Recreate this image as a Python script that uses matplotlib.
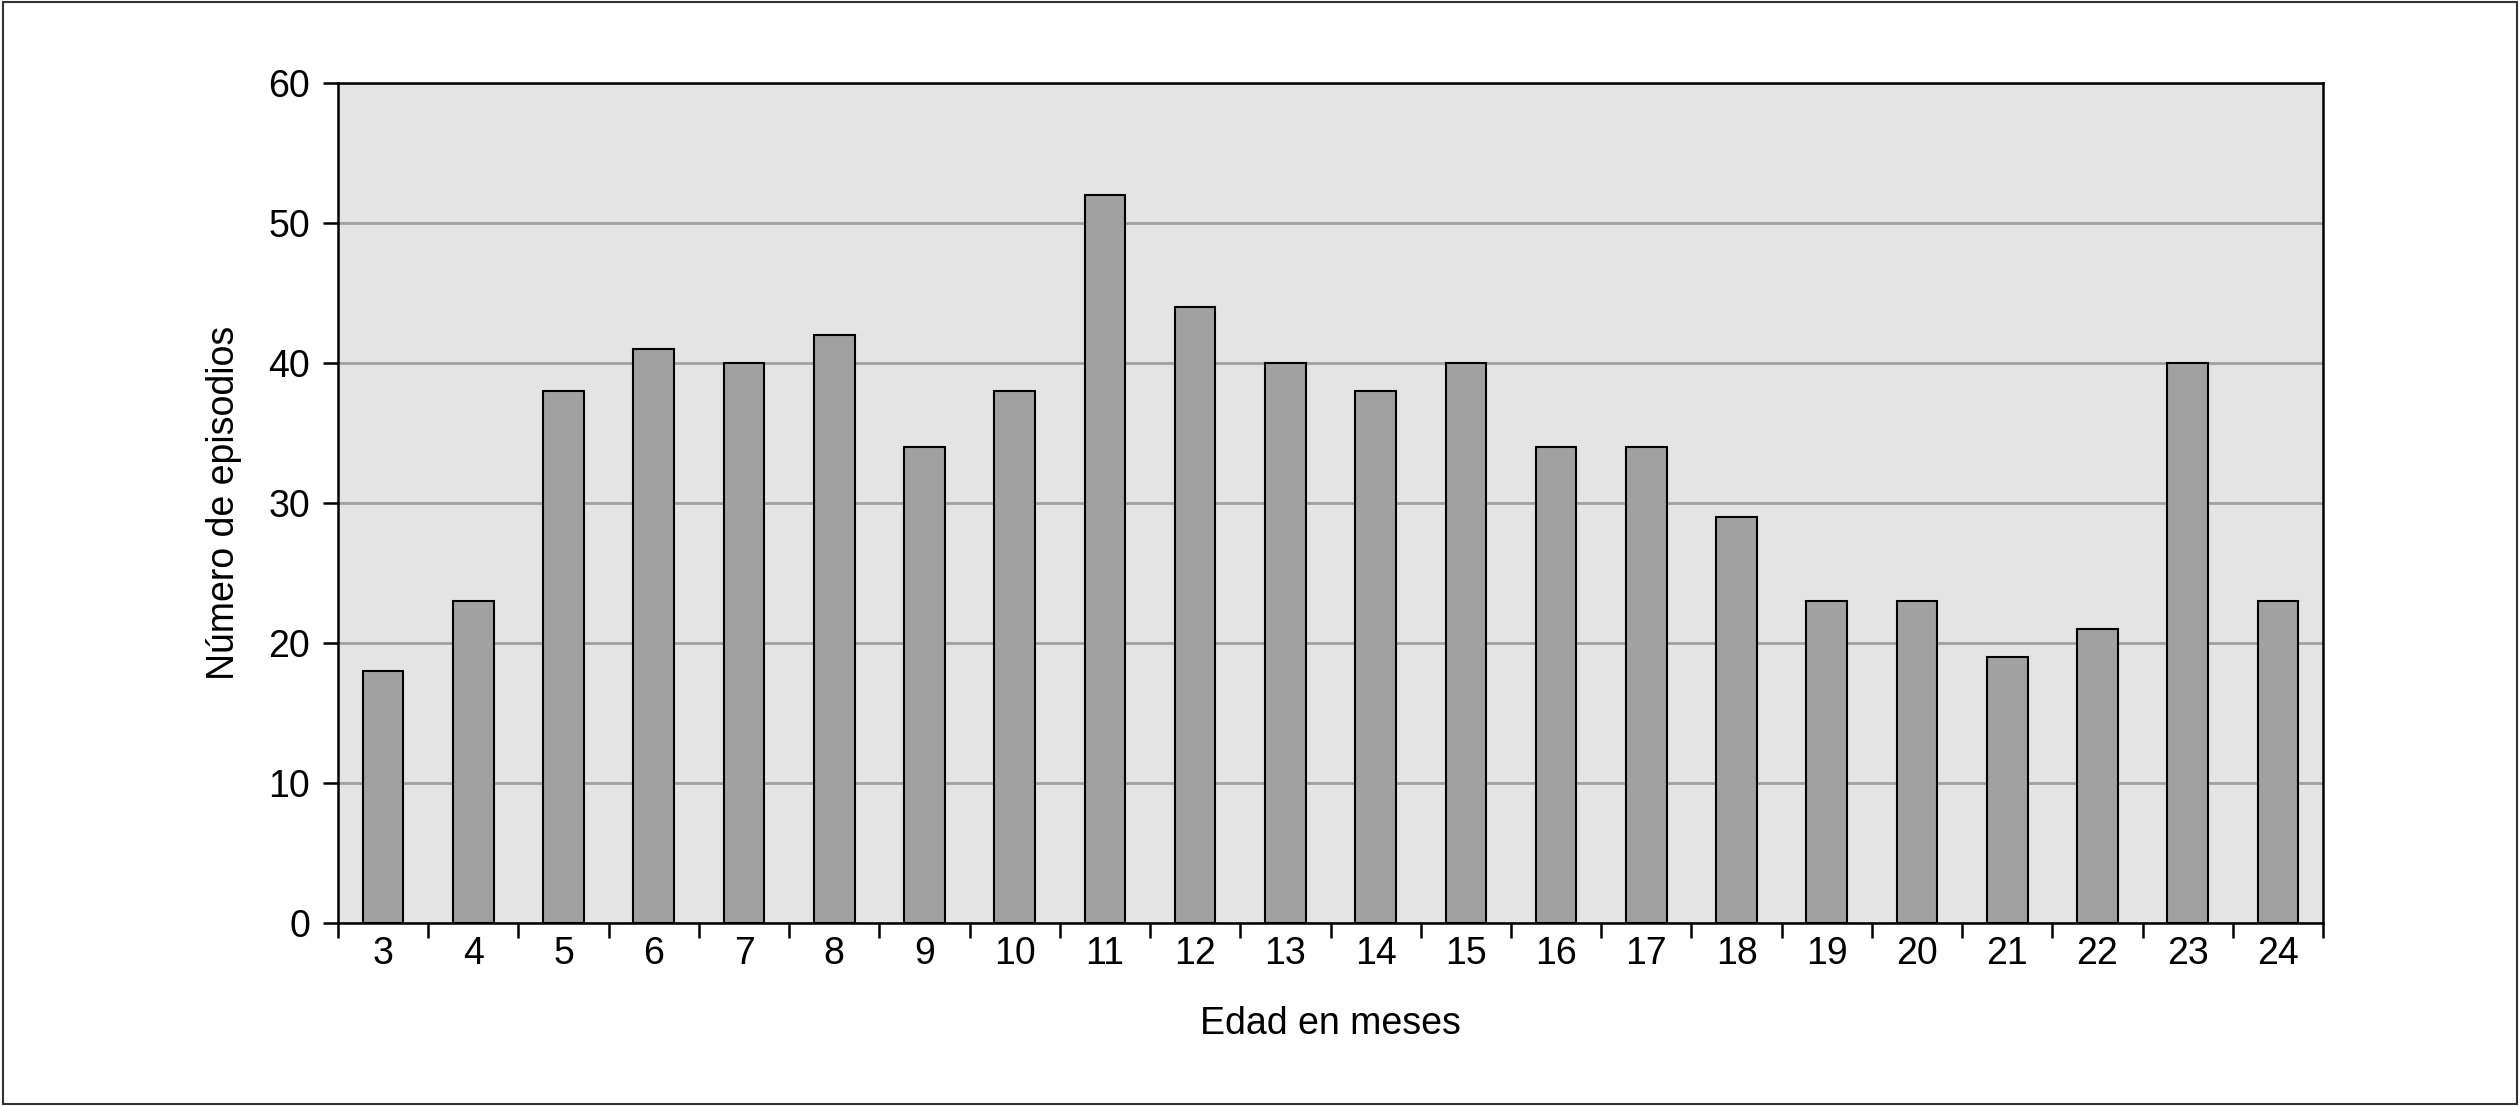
import numpy as np
import matplotlib.pyplot as plt
from matplotlib.patches import Rectangle

plt.rcParams['font.family'] = ['Liberation Sans', 'DejaVu Sans']

# Data
edades = [3, 4, 5, 6, 7, 8, 9, 10, 11, 12, 13, 14, 15, 16, 17, 18, 19, 20, 21, 22, 23, 24]
episodios = [18, 23, 38, 41, 40, 42, 34, 38, 52, 44, 40, 38, 40, 34, 34, 29, 23, 23, 19, 21, 40, 23]
yticks = [0, 10, 20, 30, 40, 50, 60]

fig = plt.figure(figsize=(25.2, 11.06), dpi=100)
ax = fig.add_axes([338 / 2520, 1 - 923 / 1106, (2323 - 338) / 2520, (923 - 83) / 1106])

# outer frame around the whole figure
fig.patches.append(Rectangle((0.001, 0.002), 0.998, 0.996, transform=fig.transFigure,
                             fill=False, edgecolor='#333333', linewidth=1.5))

x = np.arange(len(edades))
ax.set_facecolor('#e4e4e4')
ax.bar(x, episodios, width=0.45, color='#a1a1a1', edgecolor='black', linewidth=1.5, zorder=3)

ax.set_xlim(-0.5, len(edades) - 0.5)
ax.set_ylim(0, 60)
ax.set_yticks(yticks)
ax.yaxis.grid(True, color='#a0a0a0', linewidth=2, zorder=1)
ax.set_axisbelow(True)

# category labels at bar centres, ticks at category boundaries
ax.set_xticks(x)
ax.set_xticklabels([str(e) for e in edades])
ax.set_xticks(np.arange(-0.5, len(edades)), minor=True)
ax.tick_params(axis='x', which='major', length=0, pad=9, labelsize=27)
ax.tick_params(axis='x', which='minor', length=11, width=1.8, direction='out')
ax.tick_params(axis='y', length=11, width=1.8, direction='out', pad=9, labelsize=27)

for s in ax.spines.values():
    s.set_linewidth(1.8)
    s.set_color('black')

ax.set_xlabel('Edad en meses', fontsize=27, labelpad=25)
ax.set_ylabel('Número de episodios', fontsize=27, labelpad=19)

fig.savefig('out.png', dpi=100)
